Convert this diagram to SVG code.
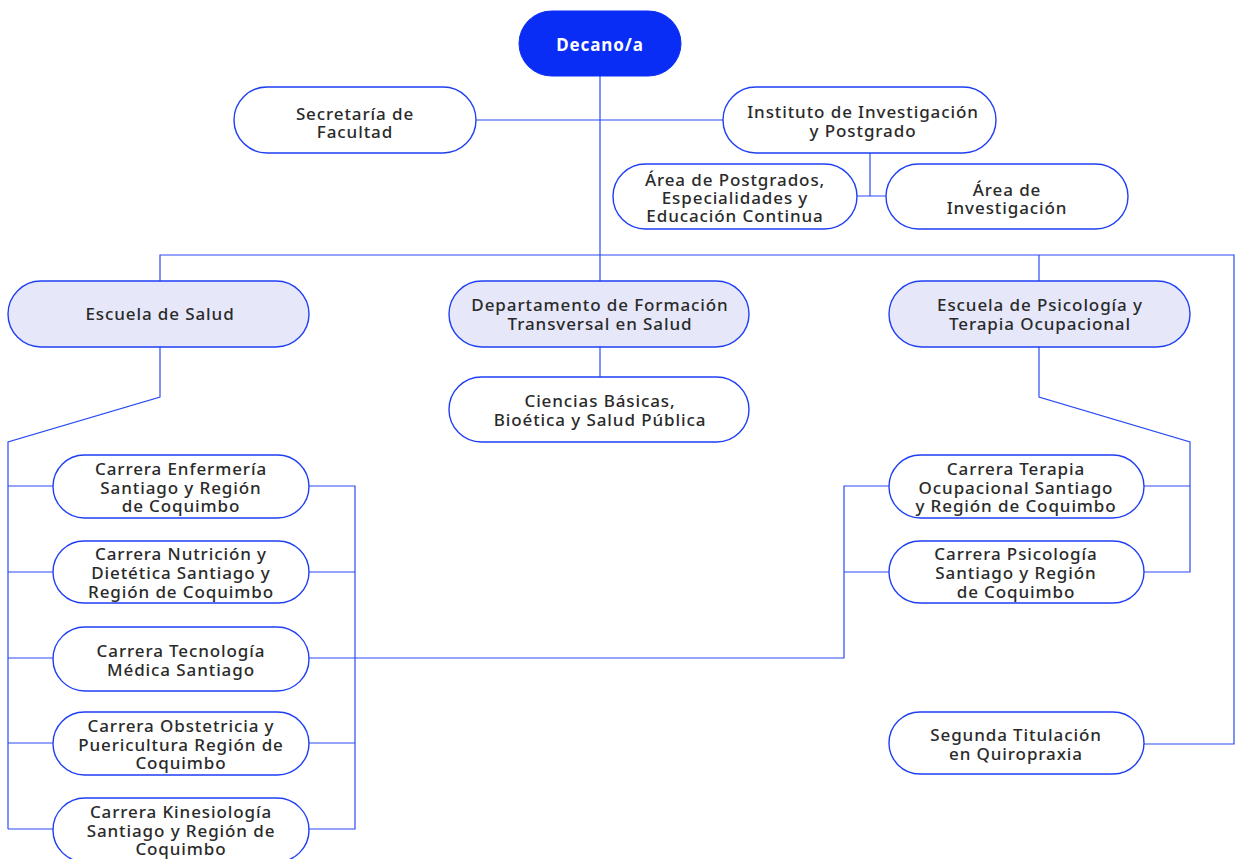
<svg xmlns="http://www.w3.org/2000/svg" width="1235" height="859" viewBox="0 0 1235 859">
<style>
.n{fill:#ffffff;stroke:#1f3ff5;stroke-width:1.4}
.s{fill:#e6e8fa;stroke:#1f3ff5;stroke-width:1.4}
.d{fill:#0a2df5;stroke:#0a2df5}
.c{fill:none;stroke:#2a4bf5;stroke-width:1.2}
text{font-family:"Noto Sans","Open Sans",sans-serif;font-size:17px;font-weight:500;fill:#2a2a2a;text-anchor:middle;dominant-baseline:central;letter-spacing:0.9px}
.w{fill:#ffffff;font-weight:700}
</style>
<rect width="1235" height="859" fill="#ffffff"/>
<g id="connectors">
<path class="c" d="M600 76V281"/>
<path class="c" d="M476 120H723"/>
<path class="c" d="M870 153V196M857 196H886"/>
<path class="c" d="M160 281V255H1234V744H1144"/>
<path class="c" d="M1039 255V281"/>
<path class="c" d="M600 347V377"/>
<path class="c" d="M160 347V397L8 442V829"/>
<path class="c" d="M8 486H53M8 572H53M8 658H53M8 743H53M8 829H53"/>
<path class="c" d="M309 486H355V829H309M309 572H355M309 743H355"/>
<path class="c" d="M309 658H844V486H889M844 572H889"/>
<path class="c" d="M1039 347V397L1190 442V572H1144M1144 486H1190"/>
</g>
<g id="decano"><rect class="d" x="519" y="11" width="162" height="65" rx="32.5"/><text class="w" x="600" y="44">Decano/a</text></g>
<g id="secretaria"><rect class="n" x="234" y="87" width="242" height="66" rx="33"/><text x="355" y="113">Secretaría de</text><text x="355" y="131">Facultad</text></g>
<g id="instituto"><rect class="n" x="723" y="87" width="273" height="66" rx="33"/><text x="863" y="111">Instituto de Investigación</text><text x="863" y="130">y Postgrado</text></g>
<g id="area-postgrados"><rect class="n" x="613" y="164" width="244" height="65" rx="32.5"/><text x="735" y="179">Área de Postgrados,</text><text x="735" y="197">Especialidades y</text><text x="735" y="215">Educación Continua</text></g>
<g id="area-investigacion"><rect class="n" x="886" y="164" width="242" height="65" rx="32.5"/><text x="1007" y="189">Área de</text><text x="1007" y="207">Investigación</text></g>
<g id="escuela-salud"><rect class="s" x="8" y="281" width="301" height="66" rx="33"/><text x="160" y="313">Escuela de Salud</text></g>
<g id="departamento"><rect class="s" x="449" y="281" width="300" height="66" rx="33"/><text x="600" y="304">Departamento de Formación</text><text x="600" y="323">Transversal en Salud</text></g>
<g id="ciencias"><rect class="n" x="449" y="377" width="300" height="65" rx="32.5"/><text x="600" y="400">Ciencias Básicas,</text><text x="600" y="419">Bioética y Salud Pública</text></g>
<g id="escuela-psicologia"><rect class="s" x="889" y="281" width="301" height="66" rx="33"/><text x="1040" y="304">Escuela de Psicología y</text><text x="1040" y="323">Terapia Ocupacional</text></g>
<g id="enfermeria"><rect class="n" x="53" y="455" width="256" height="63" rx="31.5"/><text x="181" y="468">Carrera Enfermería</text><text x="181" y="487">Santiago y Región</text><text x="181" y="505">de Coquimbo</text></g>
<g id="nutricion"><rect class="n" x="53" y="541" width="256" height="62" rx="31"/><text x="181" y="553">Carrera Nutrición y</text><text x="181" y="572">Dietética Santiago y</text><text x="181" y="591">Región de Coquimbo</text></g>
<g id="tecnologia"><rect class="n" x="53" y="627" width="256" height="64" rx="32"/><text x="181" y="650">Carrera Tecnología</text><text x="181" y="669">Médica Santiago</text></g>
<g id="obstetricia"><rect class="n" x="53" y="712" width="256" height="63" rx="31.5"/><text x="181" y="725">Carrera Obstetricia y</text><text x="181" y="744">Puericultura Región de</text><text x="181" y="762">Coquimbo</text></g>
<g id="kinesiologia"><rect class="n" x="53" y="798" width="256" height="64" rx="32"/><text x="181" y="811">Carrera Kinesiología</text><text x="181" y="830">Santiago y Región de</text><text x="181" y="848">Coquimbo</text></g>
<g id="terapia"><rect class="n" x="889" y="455" width="255" height="63" rx="31.5"/><text x="1016" y="468">Carrera Terapia</text><text x="1016" y="487">Ocupacional Santiago</text><text x="1016" y="505">y Región de Coquimbo</text></g>
<g id="psicologia"><rect class="n" x="889" y="541" width="255" height="62" rx="31"/><text x="1016" y="553">Carrera Psicología</text><text x="1016" y="572">Santiago y Región</text><text x="1016" y="591">de Coquimbo</text></g>
<g id="quiropraxia"><rect class="n" x="889" y="712" width="255" height="62" rx="31"/><text x="1016" y="734">Segunda Titulación</text><text x="1016" y="753">en Quiropraxia</text></g>
</svg>
